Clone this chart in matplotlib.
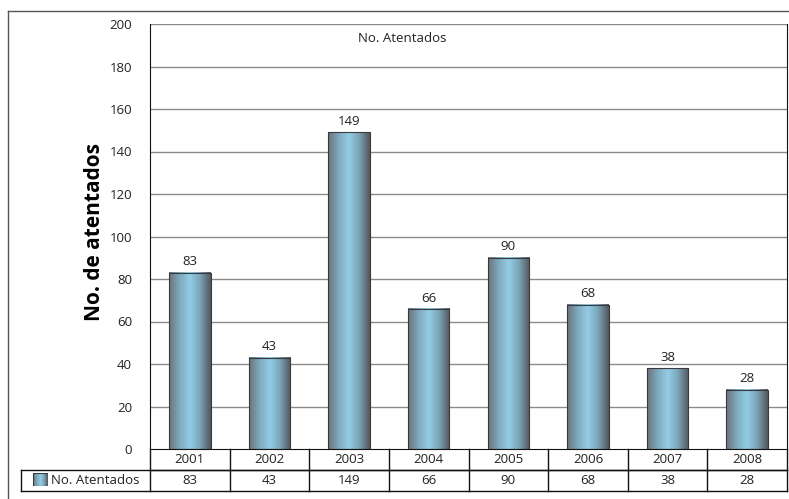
import numpy as np
import matplotlib.pyplot as plt
from matplotlib.colors import LinearSegmentedColormap
from matplotlib.lines import Line2D
from matplotlib.patches import Rectangle

plt.rcParams['font.family'] = ['Open Sans', 'DejaVu Sans']

# datos
anios = ['2001', '2002', '2003', '2004', '2005', '2006', '2007', '2008']
atentados = [83, 43, 149, 66, 90, 68, 38, 28]
serie = 'No. Atentados'
yticks = [0, 20, 40, 60, 80, 100, 120, 140, 160, 180, 200]

W, H = 789, 499
fs = 9.5
fig = plt.figure(figsize=(W / 100, H / 100), dpi=100)

def px(x, y):
    # pixel (desde arriba-izquierda) -> coordenadas de figura
    return x / W, 1 - y / H

# ejes: 150..787 px en x, 24..449 px en y
ax = fig.add_axes([150 / W, (H - 449) / H, (787 - 150) / W, (449 - 24) / H])

grad = LinearSegmentedColormap.from_list(
    'barra', ['#6d747b', '#7fa9bd', '#93cde6', '#7aa3b6', '#54585d'])
g = np.linspace(0, 1, 64).reshape(1, -1)

x = np.arange(len(anios))
ancho = 0.52
barras = ax.bar(x, atentados, width=ancho, color='none', edgecolor='#3a3a3a',
                linewidth=0.8, zorder=3)
for b in barras:
    ax.imshow(g, extent=[b.get_x(), b.get_x() + b.get_width(), 0, b.get_height()],
              aspect='auto', cmap=grad, zorder=2, interpolation='bilinear')

for xi, v in zip(x, atentados):
    ax.text(xi, v + 2, str(v), ha='center', va='bottom', fontsize=fs, color='#222')

ax.set_xlim(-0.5, len(anios) - 0.5)
ax.set_ylim(0, 200)
ax.set_yticks(yticks)
ax.set_xticks([])
ax.tick_params(axis='y', length=0, pad=13, labelsize=fs, colors='#222')
for t in yticks[1:]:
    ax.axhline(t, color='#8a8a8a', lw=1, zorder=1)
ax.spines['top'].set_visible(False)
ax.spines['left'].set_color('#111')
ax.spines['right'].set_color('#111')
ax.spines['bottom'].set_color('#111')

ax.text(2.11, 196, serie, ha='left', va='top', fontsize=fs, color='#222')
ax.set_ylabel('No. de atentados', fontsize=15, fontweight='bold')
ax.yaxis.set_label_coords(-0.07, 0.51)

# tabla de datos debajo del eje
tr = ax.get_xaxis_transform()
fila = 21 / 425
col_izq = -0.5 - 129 / 79.625
kw = dict(transform=tr, color='#111', lw=1, clip_on=False)
ax.plot([-0.5, 7.5], [-fila, -fila], **kw)
ax.plot([col_izq, 7.5], [-fila, -fila], **kw)
ax.plot([col_izq, 7.5], [-2 * fila, -2 * fila], **kw)
ax.plot([col_izq, col_izq], [-fila, -2 * fila], **kw)
for b in np.arange(-0.5, 8, 1):
    ax.plot([b, b], [0, -2 * fila], **kw)
for xi, a, v in zip(x, anios, atentados):
    ax.text(xi, -0.5 * fila, a, transform=tr, ha='center', va='center', fontsize=fs, color='#222')
    ax.text(xi, -1.5 * fila, str(v), transform=tr, ha='center', va='center', fontsize=fs, color='#222')

# leyenda de la fila
sx, sy = px(33, 486)
sw = 15 / W
sh = 13 / H
ax_leg = fig.add_axes([sx, sy, sw, sh])
ax_leg.imshow(g, aspect='auto', cmap=grad, extent=[0, 1, 0, 1])
ax_leg.add_patch(Rectangle((0, 0), 1, 1, fill=False, edgecolor='#3a3a3a', lw=0.8))
ax_leg.set_axis_off()
fig.text(*px(51, 481), serie, ha='left', va='center', fontsize=fs, color='#222')

# marco exterior
fig.add_artist(Line2D(*zip(px(8, 11), px(8, 499)), color='#555', lw=1))
fig.add_artist(Line2D(*zip(px(8, 11), px(789, 11)), color='#555', lw=1))

fig.savefig('out.png', dpi=100)
